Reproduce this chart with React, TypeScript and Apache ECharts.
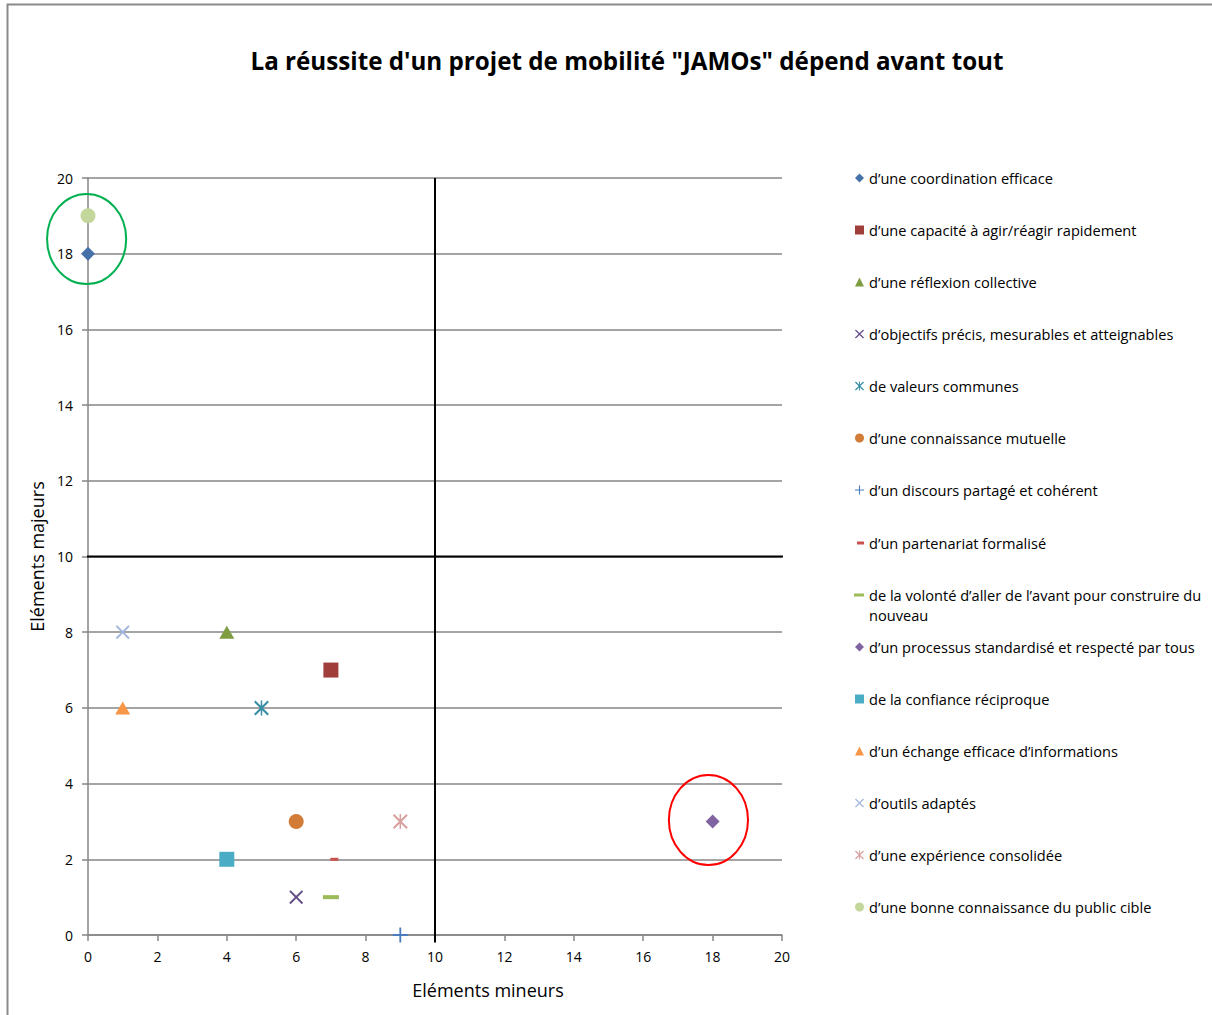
import React, { useEffect, useRef } from "react";
import * as echarts from "echarts";

const TITLE = "La réussite d'un projet de mobilité \"JAMOs\" dépend avant tout";
const X_NAME = "Eléments mineurs";
const Y_NAME = "Eléments majeurs";

const seriesNames = [
  "d’une coordination efficace",
  "d’une capacité à agir/réagir rapidement",
  "d’une réflexion collective",
  "d’objectifs précis, mesurables et atteignables",
  "de valeurs communes",
  "d’une connaissance mutuelle",
  "d’un discours partagé et cohérent",
  "d’un partenariat formalisé",
  "de la volonté d’aller de l’avant pour construire du nouveau",
  "d’un processus standardisé et respecté par tous",
  "de la confiance réciproque",
  "d’un échange efficace d’informations",
  "d’outils adaptés",
  "d’une expérience consolidée",
  "d’une bonne connaissance du public cible",
];

// Eléments mineurs (x)
const xValues = [0, 7, 4, 6, 5, 6, 9, 7.1, 7, 18, 4, 1, 1, 9, 0];
// Eléments majeurs (y)
const yValues = [18, 7, 8, 1, 6, 3, 0, 2, 1, 3, 2, 6, 8, 3, 19];

const colors = [
  "#4570A8",
  "#A03E3B",
  "#7E9C40",
  "#634F87",
  "#388EA5",
  "#D27C38",
  "#4A7CC0",
  "#C9504D",
  "#9BBB59",
  "#8064A2",
  "#4BACC6",
  "#F79646",
  "#A3B8DC",
  "#D9A2A0",
  "#C3D69B",
];

const X_PATH = "path://M0 10L10 0L50 40L90 0L100 10L60 50L100 90L90 100L50 60L10 100L0 90L40 50Z";
const STAR_PATH =
  "path://M0 10L10 0L50 40L90 0L100 10L60 50L100 90L90 100L50 60L10 100L0 90L40 50Z M45 0L55 0L55 100L45 100Z";
const PLUS_PATH = "path://M44 0L56 0L56 44L100 44L100 56L56 56L56 100L44 100L44 56L0 56L0 44L44 44Z";

const symbols = [
  "diamond",
  "rect",
  "triangle",
  X_PATH,
  STAR_PATH,
  "circle",
  PLUS_PATH,
  "rect",
  "rect",
  "diamond",
  "rect",
  "triangle",
  X_PATH,
  STAR_PATH,
  "circle",
];

const symbolSizes: (number | number[])[] = [
  14, 15, [15, 13], 14, 15, 15, 15, [8, 3], [16, 4], 14, 15, [15, 13], 14, 15, 15,
];

const quadrantVertical = [
  [10, -0.2],
  [10, 20],
];
const quadrantHorizontal = [
  [-0.26, 10],
  [20.3, 10],
];

// ellipse highlights: [centerX, centerY, radiusX, radiusY]
const highlightEllipses = [
  [-0.04, 18.39, 1.14, 1.19],
  [17.88, 3.04, 1.14, 1.19],
];
const highlightColors = ["#00B050", "#FF0000"];

const FONT = "Open Sans";
const WRAPPED = "\u00A0\nde la volonté d’aller de l’avant pour construire du\nnouveau";

export default function App() {
  const ref = useRef<HTMLDivElement>(null);

  useEffect(() => {
    if (!ref.current) return;
    const chart = echarts.init(ref.current, undefined, { renderer: "svg" });

    const scatterSeries = seriesNames.map((name, i) => ({
      name,
      type: "scatter",
      symbol: symbols[i],
      symbolSize: symbolSizes[i],
      symbolKeepAspect: true,
      itemStyle: { color: colors[i], opacity: 1 },
      z: 4,
      silent: true,
      data: [[xValues[i], yValues[i]]],
    }));

    const textStyle = { fontFamily: FONT, fontSize: 14.6, lineHeight: 16, color: "#000" };
    const legendCommon = {
      orient: "vertical",
      left: 855,
      padding: 0,
      itemWidth: 9,
      itemHeight: 9,
      itemGap: 36,
      selectedMode: false,
      textStyle,
    };

    chart.setOption({
      animation: false,
      backgroundColor: "#fff",
      title: {
        text: TITLE,
        left: 622,
        textAlign: "center",
        top: 43,
        textStyle: { fontFamily: FONT, fontSize: 24.2, fontWeight: "bold", color: "#000" },
      },
      graphic: [
        {
          type: "rect",
          silent: true,
          shape: { x: 7.5, y: 4.5, width: 1400, height: 1200 },
          style: { fill: "none", stroke: "#8a8a8a", lineWidth: 2 },
        },
      ],
      legend: [
        { ...legendCommon, top: 170, data: seriesNames.slice(0, 7) },
        {
          ...legendCommon,
          left: 869 - 5 - 7,
          itemWidth: 7,
          itemHeight: 3,
          top: 535,
          data: [seriesNames[7]],
        },
        {
          ...legendCommon,
          left: 869 - 5 - 10,
          itemWidth: 10,
          itemHeight: 3,
          top: 565,
          formatter: () => WRAPPED,
          textStyle: { ...textStyle, lineHeight: 20 },
          data: [seriesNames[8]],
        },
        { ...legendCommon, top: 639, data: seriesNames.slice(9) },
      ],
      grid: { left: 88, top: 178, width: 694, height: 757, containLabel: false },
      xAxis: {
        type: "value",
        min: 0,
        max: 20,
        interval: 2,
        name: X_NAME,
        nameLocation: "middle",
        nameGap: 46,
        nameTextStyle: { fontFamily: FONT, fontSize: 18, color: "#000", padding: [0, 0, 0, 106] },
        axisLine: { show: true, onZero: false, lineStyle: { color: "#868686", width: 1.5 } },
        axisTick: { show: true, length: 6, lineStyle: { color: "#868686", width: 1.5 } },
        axisLabel: { fontFamily: FONT, fontSize: 14, color: "#000", margin: 14 },
        splitLine: { show: false },
      },
      yAxis: {
        type: "value",
        min: 0,
        max: 20,
        interval: 2,
        name: Y_NAME,
        nameLocation: "middle",
        nameGap: 39,
        nameTextStyle: { fontFamily: FONT, fontSize: 18, color: "#000" },
        axisLine: { show: true, onZero: false, lineStyle: { color: "#868686", width: 1.5 } },
        axisTick: { show: true, length: 6, lineStyle: { color: "#868686", width: 1.5 } },
        axisLabel: { fontFamily: FONT, fontSize: 14, color: "#000", margin: 15 },
        splitLine: { show: true, lineStyle: { color: "#868686", width: 1.5 } },
      },
      series: [
        {
          type: "line",
          name: "quadrant-v",
          data: quadrantVertical,
          symbol: "none",
          clip: false,
          silent: true,
          z: 3,
          lineStyle: { color: "#000", width: 2 },
        },
        {
          type: "line",
          name: "quadrant-h",
          data: quadrantHorizontal,
          symbol: "none",
          clip: false,
          silent: true,
          z: 3,
          lineStyle: { color: "#000", width: 2 },
        },
        ...scatterSeries,
        {
          type: "custom",
          name: "highlights",
          coordinateSystem: "cartesian2d",
          clip: false,
          silent: true,
          z: 5,
          data: highlightEllipses,
          renderItem: (params: any, api: any) => {
            const c = api.coord([api.value(0), api.value(1)]);
            const s = api.size([api.value(2), api.value(3)]);
            return {
              type: "ellipse",
              shape: { cx: c[0], cy: c[1], rx: s[0], ry: s[1] },
              style: { fill: "none", stroke: highlightColors[params.dataIndex], lineWidth: 2 },
            };
          },
        },
      ],
    });

    return () => chart.dispose();
  }, []);

  return (
    <div
      ref={ref}
      style={{ position: "absolute", left: 0, top: 0, width: 1212, height: 1015 }}
    />
  );
}
